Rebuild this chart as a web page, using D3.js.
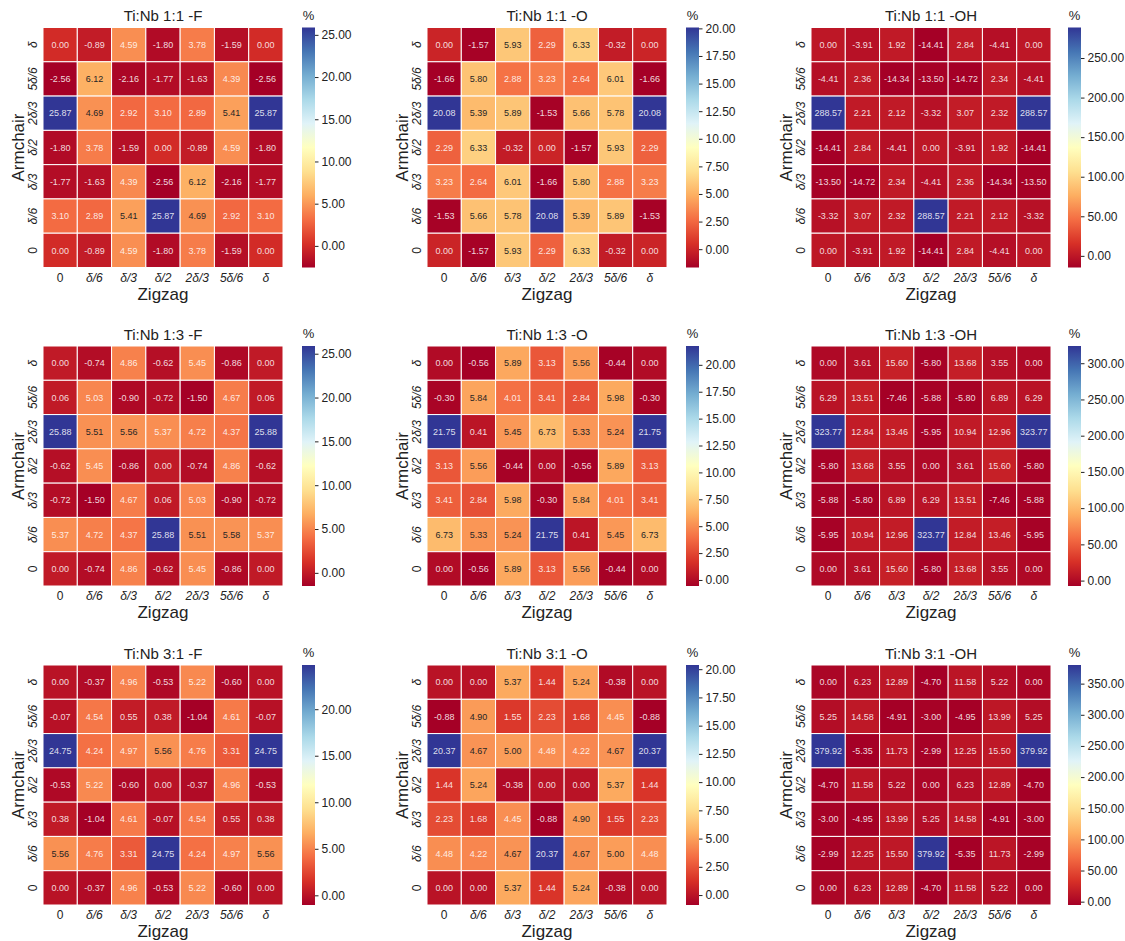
<!DOCTYPE html>
<html>
<head>
<meta charset="utf-8">
<script src="https://cdn.jsdelivr.net/npm/d3@7"></script>
<style>
  html, body { margin: 0; padding: 0; background: #ffffff; }
  svg { display: block; font-family: "Liberation Sans", Arial, sans-serif; }
</style>
</head>
<body>
<svg id="chart" width="1125" height="941"></svg>
<script>
// ---------- data ----------
const xLabels = ["0", "δ/6", "δ/3", "δ/2", "2δ/3", "5δ/6", "δ"];       // Zigzag
const yLabels = ["δ", "5δ/6", "2δ/3", "δ/2", "δ/3", "δ/6", "0"];       // Armchair (top -> bottom)

const titles = [
  "Ti:Nb 1:1 -F", "Ti:Nb 1:1 -O", "Ti:Nb 1:1 -OH",
  "Ti:Nb 1:3 -F", "Ti:Nb 1:3 -O", "Ti:Nb 1:3 -OH",
  "Ti:Nb 3:1 -F", "Ti:Nb 3:1 -O", "Ti:Nb 3:1 -OH"
];

const tiNb11F = [
  [0.00, -0.89, 4.59, -1.80, 3.78, -1.59, 0.00],
  [-2.56, 6.12, -2.16, -1.77, -1.63, 4.39, -2.56],
  [25.87, 4.69, 2.92, 3.10, 2.89, 5.41, 25.87],
  [-1.80, 3.78, -1.59, 0.00, -0.89, 4.59, -1.80],
  [-1.77, -1.63, 4.39, -2.56, 6.12, -2.16, -1.77],
  [3.10, 2.89, 5.41, 25.87, 4.69, 2.92, 3.10],
  [0.00, -0.89, 4.59, -1.80, 3.78, -1.59, 0.00]
];
const tiNb11O = [
  [0.00, -1.57, 5.93, 2.29, 6.33, -0.32, 0.00],
  [-1.66, 5.80, 2.88, 3.23, 2.64, 6.01, -1.66],
  [20.08, 5.39, 5.89, -1.53, 5.66, 5.78, 20.08],
  [2.29, 6.33, -0.32, 0.00, -1.57, 5.93, 2.29],
  [3.23, 2.64, 6.01, -1.66, 5.80, 2.88, 3.23],
  [-1.53, 5.66, 5.78, 20.08, 5.39, 5.89, -1.53],
  [0.00, -1.57, 5.93, 2.29, 6.33, -0.32, 0.00]
];
const tiNb11OH = [
  [0.00, -3.91, 1.92, -14.41, 2.84, -4.41, 0.00],
  [-4.41, 2.36, -14.34, -13.50, -14.72, 2.34, -4.41],
  [288.57, 2.21, 2.12, -3.32, 3.07, 2.32, 288.57],
  [-14.41, 2.84, -4.41, 0.00, -3.91, 1.92, -14.41],
  [-13.50, -14.72, 2.34, -4.41, 2.36, -14.34, -13.50],
  [-3.32, 3.07, 2.32, 288.57, 2.21, 2.12, -3.32],
  [0.00, -3.91, 1.92, -14.41, 2.84, -4.41, 0.00]
];
const tiNb13F = [
  [0.00, -0.74, 4.86, -0.62, 5.45, -0.86, 0.00],
  [0.06, 5.03, -0.90, -0.72, -1.50, 4.67, 0.06],
  [25.88, 5.51, 5.56, 5.37, 4.72, 4.37, 25.88],
  [-0.62, 5.45, -0.86, 0.00, -0.74, 4.86, -0.62],
  [-0.72, -1.50, 4.67, 0.06, 5.03, -0.90, -0.72],
  [5.37, 4.72, 4.37, 25.88, 5.51, 5.58, 5.37],
  [0.00, -0.74, 4.86, -0.62, 5.45, -0.86, 0.00]
];
const tiNb13O = [
  [0.00, -0.56, 5.89, 3.13, 5.56, -0.44, 0.00],
  [-0.30, 5.84, 4.01, 3.41, 2.84, 5.98, -0.30],
  [21.75, 0.41, 5.45, 6.73, 5.33, 5.24, 21.75],
  [3.13, 5.56, -0.44, 0.00, -0.56, 5.89, 3.13],
  [3.41, 2.84, 5.98, -0.30, 5.84, 4.01, 3.41],
  [6.73, 5.33, 5.24, 21.75, 0.41, 5.45, 6.73],
  [0.00, -0.56, 5.89, 3.13, 5.56, -0.44, 0.00]
];
const tiNb13OH = [
  [0.00, 3.61, 15.60, -5.80, 13.68, 3.55, 0.00],
  [6.29, 13.51, -7.46, -5.88, -5.80, 6.89, 6.29],
  [323.77, 12.84, 13.46, -5.95, 10.94, 12.96, 323.77],
  [-5.80, 13.68, 3.55, 0.00, 3.61, 15.60, -5.80],
  [-5.88, -5.80, 6.89, 6.29, 13.51, -7.46, -5.88],
  [-5.95, 10.94, 12.96, 323.77, 12.84, 13.46, -5.95],
  [0.00, 3.61, 15.60, -5.80, 13.68, 3.55, 0.00]
];
const tiNb31F = [
  [0.00, -0.37, 4.96, -0.53, 5.22, -0.60, 0.00],
  [-0.07, 4.54, 0.55, 0.38, -1.04, 4.61, -0.07],
  [24.75, 4.24, 4.97, 5.56, 4.76, 3.31, 24.75],
  [-0.53, 5.22, -0.60, 0.00, -0.37, 4.96, -0.53],
  [0.38, -1.04, 4.61, -0.07, 4.54, 0.55, 0.38],
  [5.56, 4.76, 3.31, 24.75, 4.24, 4.97, 5.56],
  [0.00, -0.37, 4.96, -0.53, 5.22, -0.60, 0.00]
];
const tiNb31O = [
  [0.00, 0.00, 5.37, 1.44, 5.24, -0.38, 0.00],
  [-0.88, 4.90, 1.55, 2.23, 1.68, 4.45, -0.88],
  [20.37, 4.67, 5.00, 4.48, 4.22, 4.67, 20.37],
  [1.44, 5.24, -0.38, 0.00, 0.00, 5.37, 1.44],
  [2.23, 1.68, 4.45, -0.88, 4.90, 1.55, 2.23],
  [4.48, 4.22, 4.67, 20.37, 4.67, 5.00, 4.48],
  [0.00, 0.00, 5.37, 1.44, 5.24, -0.38, 0.00]
];
const tiNb31OH = [
  [0.00, 6.23, 12.89, -4.70, 11.58, 5.22, 0.00],
  [5.25, 14.58, -4.91, -3.00, -4.95, 13.99, 5.25],
  [379.92, -5.35, 11.73, -2.99, 12.25, 15.50, 379.92],
  [-4.70, 11.58, 5.22, 0.00, 6.23, 12.89, -4.70],
  [-3.00, -4.95, 13.99, 5.25, 14.58, -4.91, -3.00],
  [-2.99, 12.25, 15.50, 379.92, -5.35, 11.73, -2.99],
  [0.00, 6.23, 12.89, -4.70, 11.58, 5.22, 0.00]
];

// colorbar tick values
const ticksF25 = [0, 5, 10, 15, 20, 25];
const ticksF20 = [0, 5, 10, 15, 20];
const ticksO = [0, 2.5, 5, 7.5, 10, 12.5, 15, 17.5, 20];
const ticksOH11 = [0, 50, 100, 150, 200, 250];
const ticksOH13 = [0, 50, 100, 150, 200, 250, 300];
const ticksOH31 = [0, 50, 100, 150, 200, 250, 300, 350];

// RdYlBu (ColorBrewer 11), low -> high
const rdylbu = ["#a50026", "#d73027", "#f46d43", "#fdae61", "#fee090", "#ffffbf",
                "#e0f3f8", "#abd9e9", "#74add1", "#4575b4", "#313695"];

const panelData = [tiNb11F, tiNb11O, tiNb11OH, tiNb13F, tiNb13O, tiNb13OH, tiNb31F, tiNb31O, tiNb31OH];
const panelTicks = [ticksF25, ticksO, ticksOH11, ticksF25, ticksO, ticksOH13, ticksF20, ticksO, ticksOH31];

// ---------- layout ----------
const colLeft = [43, 427, 811];
const rowTop = [27.5, 346, 665];
const cbLeft = [302, 686, 1068];
const size = 240;
const cbW = 13;
const ink = "#222222";

const svg = d3.select("#chart");

const cmapStops = d3.scaleLinear()
  .domain(d3.range(rdylbu.length).map(i => i / (rdylbu.length - 1)))
  .range(rdylbu)
  .interpolate(d3.interpolateRgb);

function cmap(t) {
  // matplotlib-like quantization to 256 levels
  const idx = Math.max(0, Math.min(255, Math.floor(t * 256)));
  return cmapStops(idx / 255);
}
function relLum(c) {
  const rgb = d3.rgb(c);
  const f = v => { v = v / 255; return v <= 0.03928 ? v / 12.92 : Math.pow((v + 0.055) / 1.055, 2.4); };
  return 0.2126 * f(rgb.r) + 0.7152 * f(rgb.g) + 0.0722 * f(rgb.b);
}

// gradient for colorbars
const defs = svg.append("defs");
const grad = defs.append("linearGradient")
  .attr("id", "cbgrad").attr("x1", 0).attr("y1", 1).attr("x2", 0).attr("y2", 0);
grad.selectAll("stop").data(rdylbu).join("stop")
  .attr("offset", (d, i) => i / (rdylbu.length - 1))
  .attr("stop-color", d => d);

const x = d3.scaleBand().domain(xLabels).range([0, size]).padding(0);
const y = d3.scaleBand().domain(yLabels).range([0, size]).padding(0);

panelData.forEach((data, p) => {
  const col = p % 3, row = Math.floor(p / 3);
  const left = colLeft[col], top = rowTop[row];
  const flat = data.flat();
  const vmin = d3.min(flat), vmax = d3.max(flat);
  const norm = d3.scaleLinear().domain([vmin, vmax]).range([0, 1]);

  const g = svg.append("g").attr("transform", `translate(${left},${top})`);

  const cells = [];
  data.forEach((r, i) => r.forEach((v, j) => cells.push({ r: yLabels[i], c: xLabels[j], v })));

  g.selectAll("rect.cell").data(cells).join("rect")
    .attr("class", "cell")
    .attr("x", d => x(d.c))
    .attr("y", d => y(d.r))
    .attr("width", x.bandwidth())
    .attr("height", y.bandwidth())
    .attr("fill", d => cmap(norm(d.v)))
    .attr("stroke", "#ffffff")
    .attr("stroke-width", 1);

  g.selectAll("text.ann").data(cells).join("text")
    .attr("class", "ann")
    .attr("x", d => x(d.c) + x.bandwidth() / 2)
    .attr("y", d => y(d.r) + y.bandwidth() / 2)
    .attr("dy", "0.35em")
    .attr("text-anchor", "middle")
    .attr("font-size", 9)
    .attr("fill", d => relLum(cmap(norm(d.v))) > 0.408 ? "#262626" : "#ffffff")
    .attr("fill-opacity", d => relLum(cmap(norm(d.v))) > 0.408 ? 1 : 0.85)
    .text(d => d3.format(".2f")(d.v).replace("−", "-"));

  // x axis
  const xa = g.append("g").attr("transform", `translate(0,${size})`)
    .call(d3.axisBottom(x).tickSize(0).tickPadding(4));
  xa.select(".domain").remove();
  xa.selectAll("text")
    .attr("font-size", 12)
    .attr("font-family", "Liberation Sans, Arial, sans-serif")
    .attr("fill", ink)
    .attr("dy", "0.85em")
    .style("font-style", d => d.includes("δ") ? "italic" : "normal");

  // y axis (rotated labels)
  const ya = g.append("g").call(d3.axisLeft(y).tickSize(0));
  ya.select(".domain").remove();
  ya.selectAll("text")
    .attr("x", 0).attr("dy", 0)
    .attr("text-anchor", "middle")
    .attr("transform", "translate(-6,0) rotate(-90)")
    .attr("font-size", 12)
    .attr("font-family", "Liberation Sans, Arial, sans-serif")
    .attr("fill", ink)
    .style("font-style", d => d.includes("δ") ? "italic" : "normal");

  // title
  g.append("text")
    .attr("x", size / 2).attr("y", -6.5)
    .attr("text-anchor", "middle")
    .attr("font-size", 15)
    .attr("fill", ink)
    .text(titles[p]);

  // axis labels
  g.append("text")
    .attr("x", size / 2).attr("y", size + 32)
    .attr("text-anchor", "middle")
    .attr("font-size", 17)
    .attr("fill", ink)
    .text("Zigzag");
  g.append("text")
    .attr("transform", `translate(-19,${size / 2}) rotate(-90)`)
    .attr("text-anchor", "middle")
    .attr("font-size", 17)
    .attr("fill", ink)
    .text("Armchair");

  // colorbar
  const cb = svg.append("g").attr("transform", `translate(${cbLeft[col]},${top})`);
  cb.append("rect")
    .attr("width", cbW).attr("height", size)
    .attr("fill", "url(#cbgrad)");
  const cbScale = d3.scaleLinear().domain([vmin, vmax]).range([size, 0]);
  const cba = cb.append("g").attr("transform", `translate(${cbW},0)`)
    .call(d3.axisRight(cbScale).tickValues(panelTicks[p]).tickFormat(d3.format(".2f")).tickSize(3.5).tickPadding(3));
  cba.select(".domain").remove();
  cba.selectAll("line").attr("stroke", ink);
  cba.selectAll("text")
    .attr("font-size", 12)
    .attr("font-family", "Liberation Sans, Arial, sans-serif")
    .attr("fill", ink);
  cb.append("text")
    .attr("x", cbW / 2).attr("y", -8)
    .attr("text-anchor", "middle")
    .attr("font-size", 13)
    .attr("fill", ink)
    .text("%");
});
</script>
</body>
</html>
